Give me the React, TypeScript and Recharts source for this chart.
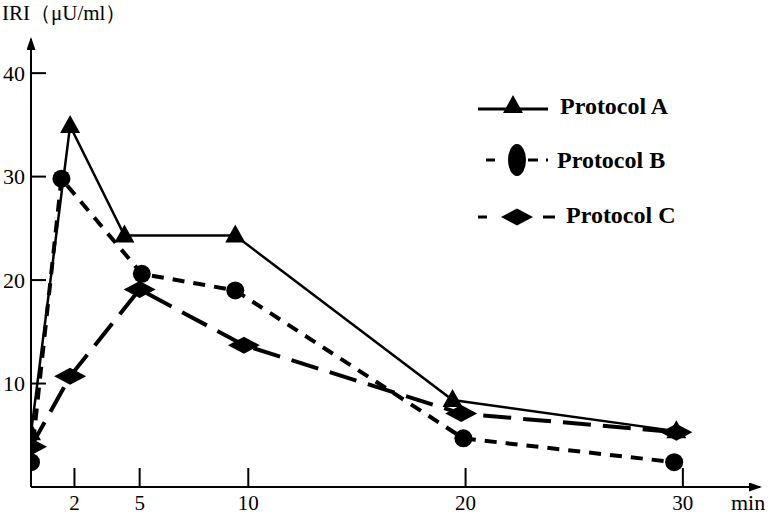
import { LineChart, Line, XAxis, YAxis, Legend } from 'recharts';

// minutes after load / IRI values
const minutesA = [0, 1.8, 4.3, 9.4, 19.4, 29.7];
const iriA = [5.2, 34.9, 24.3, 24.3, 8.4, 5.4];
const minutesB = [0, 1.4, 5.1, 9.4, 19.9, 29.6];
const iriB = [2.4, 29.8, 20.6, 19.0, 4.7, 2.4];
const minutesC = [0, 1.8, 5.0, 9.8, 19.8, 29.7];
const iriC = [3.9, 10.7, 19.1, 13.7, 7.1, 5.3];

const xTicks = [2, 5, 10, 20, 30];
const yTicks = [10, 20, 30, 40];

const toRows = (xs: number[], ys: number[]) => xs.map((t, i) => ({ t, v: ys[i] }));
const dataA = toRows(minutesA, iriA);
const dataB = toRows(minutesB, iriB);
const dataC = toRows(minutesC, iriC);

const FONT = '"Liberation Serif", "Times New Roman", serif';

const Triangle = ({ cx, cy }: any) => (
  <path d={`M${cx},${cy - 11} L${cx - 10},${cy + 7} L${cx + 10},${cy + 7} Z`} fill="#000" />
);
const Dot = ({ cx, cy }: any) => <circle cx={cx} cy={cy} r={9} fill="#000" />;
const Diamond = ({ cx, cy }: any) => (
  <path d={`M${cx - 16},${cy} L${cx},${cy - 8.5} L${cx + 16},${cy} L${cx},${cy + 8.5} Z`} fill="#000" />
);

const YTick = ({ x, y, payload }: any) => (
  <g>
    <line x1={x + 6} x2={x + 21} y1={y} y2={y} stroke="#000" strokeWidth={2} />
    <text x={x} y={y} dy="0.35em" textAnchor="end" fontSize={22} fontFamily={FONT} fill="#000">
      {payload.value}
    </text>
  </g>
);

const XTick = ({ x, y, payload }: any) => (
  <g>
    <line x1={x} x2={x} y1={y - 19} y2={y} stroke="#000" strokeWidth={2} />
    <text x={x} y={y + 23} textAnchor="middle" fontSize={21} fontFamily={FONT} fill="#000">
      {payload.value}
    </text>
  </g>
);

const MinLabel = ({ viewBox }: any) => (
  <text x={viewBox.x + viewBox.width - 29} y={viewBox.y + 23} fontSize={22} fontFamily={FONT} fill="#000">
    min
  </text>
);

const IriLabel = () => (
  <text x={2} y={20} fontSize={21} fontFamily={FONT} fill="#000">
    IRI（μU/ml）
  </text>
);

const renderLegend = () => (
  <svg width={230} height={160} style={{ overflow: 'visible' }}>
    <g fontFamily={FONT} fontWeight="bold" fontSize={24} fill="#000">
      <line x1={8} x2={78} y1={24} y2={24} stroke="#000" strokeWidth={3} />
      <Triangle cx={43} cy={21} />
      <text x={90} y={29}>Protocol A</text>

      <line x1={16} x2={78} y1={75} y2={75} stroke="#000" strokeWidth={3} strokeDasharray="9 33 10 8 2 100" />
      <ellipse cx={47} cy={75} rx={9} ry={16} fill="#000" />
      <text x={87} y={83}>Protocol B</text>

      <line x1={8} x2={85} y1={132} y2={132} stroke="#000" strokeWidth={3} strokeDasharray="9 56 12 100" />
      <Diamond cx={47} cy={132} />
      <text x={96} y={138}>Protocol C</text>
    </g>
  </svg>
);

export default function App() {
  return (
    <div style={{ position: 'absolute', left: 0, top: 0, background: '#fff' }}>
      <svg width={0} height={0} style={{ position: 'absolute' }}>
        <defs>
          <marker
            id="axisArrow"
            viewBox="0 0 13 9"
            refX={11}
            refY={4.5}
            markerWidth={13}
            markerHeight={9}
            markerUnits="userSpaceOnUse"
            orient="auto-start-reverse"
          >
            <path d="M0,0 L13,4.5 L0,9 Z" fill="#000" />
          </marker>
        </defs>
      </svg>
      <LineChart width={774} height={515} margin={{ top: 39, right: 14, left: 0, bottom: 0 }}>
        <XAxis
          dataKey="t"
          type="number"
          domain={[0, 33.55]}
          ticks={xTicks}
          height={28}
          tickSize={0}
          tickMargin={0}
          tickLine={false}
          tick={<XTick />}
          axisLine={{ stroke: '#000', strokeWidth: 2, markerEnd: 'url(#axisArrow)' }}
          label={<MinLabel />}
          allowDataOverflow
        />
        <YAxis
          type="number"
          domain={[0, 43.3]}
          ticks={yTicks}
          width={31}
          tickSize={0}
          tickMargin={6}
          tickLine={false}
          tick={<YTick />}
          axisLine={{ stroke: '#000', strokeWidth: 2, markerStart: 'url(#axisArrow)' }}
          label={<IriLabel />}
          allowDataOverflow
        />
        <Legend
          layout="horizontal"
          verticalAlign="middle"
          content={renderLegend}
          wrapperStyle={{ left: 470, top: 85, width: 230, height: 160 }}
        />
        <Line
          data={dataA}
          dataKey="v"
          name="Protocol A"
          stroke="#000"
          strokeWidth={2.5}
          dot={(p: any) => <Triangle key={`a${p.index}`} cx={p.cx} cy={p.cy} />}
          activeDot={false}
          isAnimationActive={false}
        />
        <Line
          data={dataB}
          dataKey="v"
          name="Protocol B"
          stroke="#000"
          strokeWidth={4}
          strokeDasharray="12 9"
          dot={(p: any) => <Dot key={`b${p.index}`} cx={p.cx} cy={p.cy} />}
          activeDot={false}
          isAnimationActive={false}
        />
        <Line
          data={dataC}
          dataKey="v"
          name="Protocol C"
          stroke="#000"
          strokeWidth={4}
          strokeDasharray="28 12"
          dot={(p: any) => <Diamond key={`c${p.index}`} cx={p.cx} cy={p.cy} />}
          activeDot={false}
          isAnimationActive={false}
        />
      </LineChart>
    </div>
  );
}
